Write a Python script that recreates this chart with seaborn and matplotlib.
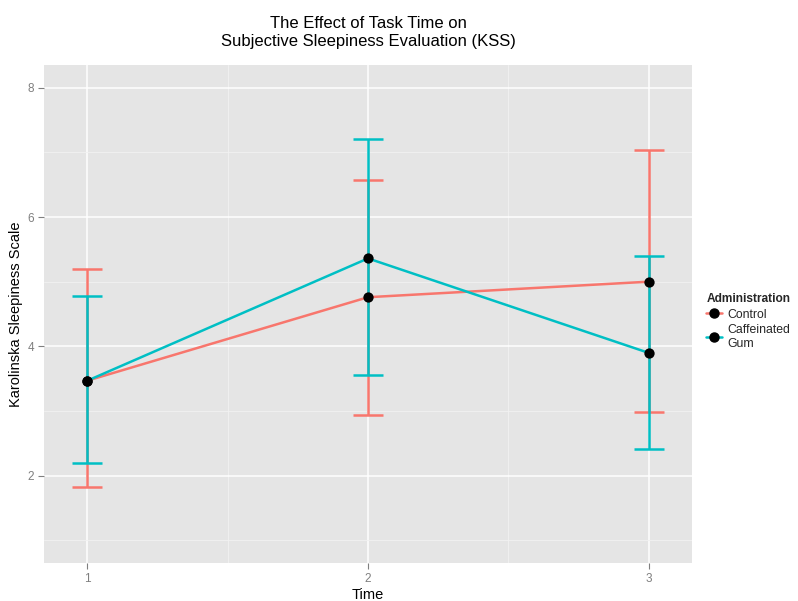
import numpy as np
import pandas as pd
import matplotlib
matplotlib.use("Agg")
import matplotlib.pyplot as plt
from matplotlib.lines import Line2D
from matplotlib.ticker import MultipleLocator
import seaborn as sns

# ---- data ----
times = [1, 2, 3]
groups = ["Control", "Caffeinated\nGum"]
control_mean = [3.47, 4.76, 5.00]
control_low = [1.82, 2.94, 2.99]
control_high = [5.20, 6.58, 7.03]
caff_mean = [3.47, 5.36, 3.90]
caff_low = [2.19, 3.55, 2.42]
caff_high = [4.78, 7.20, 5.39]
colors = ["#F8766D", "#00BFC4"]

df = pd.DataFrame({
    "Time": times * 2,
    "KSS": control_mean + caff_mean,
    "low": control_low + caff_low,
    "high": control_high + caff_high,
    "Administration": [groups[0]] * 3 + [groups[1]] * 3,
})

sns.set_theme(style="darkgrid")
plt.rcParams["font.family"] = ["Liberation Sans", "DejaVu Sans"]

fig = plt.figure(figsize=(7.98, 6.01), dpi=100)
ax = fig.add_axes([0.0551, 0.0632, 0.8121, 0.8286])
ax.set_facecolor("#E5E5E5")

# error bars (layer 1)
for g, c in zip(groups, colors):
    sub = df[df["Administration"] == g]
    ax.errorbar(sub["Time"], sub["KSS"],
                yerr=[sub["KSS"] - sub["low"], sub["high"] - sub["KSS"]],
                fmt="none", ecolor=c, elinewidth=1.8, capsize=10.5,
                capthick=1.8, zorder=3)

# lines (layer 2)
sns.lineplot(data=df, x="Time", y="KSS", hue="Administration",
             palette=colors, hue_order=groups, linewidth=1.8,
             estimator=None, legend=False, ax=ax, zorder=4)

# points (layer 3)
sns.scatterplot(data=df, x="Time", y="KSS", color="black", s=55,
                edgecolor="black", linewidth=0, legend=False, ax=ax, zorder=5)

ax.set_xlim(0.845, 3.155)
ax.set_ylim(0.65, 8.35)
ax.set_xticks(times)
ax.set_xticklabels([str(t) for t in times])
ax.set_yticks([2, 4, 6, 8])
ax.xaxis.set_minor_locator(MultipleLocator(0.5))
ax.yaxis.set_minor_locator(MultipleLocator(1))
ax.grid(which="major", color="white", linewidth=1.1)
ax.grid(which="minor", color="#F2F2F2", linewidth=0.6)
ax.set_axisbelow(True)
for s in ax.spines.values():
    s.set_visible(False)

ax.tick_params(axis="both", which="major", length=4, width=0.8, color="#7F7F7F",
               labelsize=8.5, labelcolor="#7F7F7F", pad=3, bottom=True, left=True)
ax.tick_params(axis="both", which="minor", length=0)

ax.set_xlabel("Time", fontsize=10.5, color="black", labelpad=2)
ax.set_ylabel("Karolinska Sleepiness Scale", fontsize=10.5, color="black", labelpad=3)
ax.set_title("The Effect of Task Time on\nSubjective Sleepiness Evaluation (KSS)",
             fontsize=12, color="black", pad=14, linespacing=1.2)

handles = [Line2D([0], [0], color=c, linewidth=1.8, marker="o",
                  markerfacecolor="black", markeredgecolor="black", markersize=6.5)
           for c in colors]
leg = fig.legend(handles, groups, title="Administration",
                 loc="center left", bbox_to_anchor=(0.879, 0.465),
                 frameon=False, fontsize=8.8, title_fontsize=8.6,
                 handlelength=1.3, handletextpad=0.4, labelspacing=0.3,
                 borderaxespad=0)
leg.get_title().set_fontweight("bold")
leg._legend_box.align = "left"

fig.savefig("out.png", dpi=100)
